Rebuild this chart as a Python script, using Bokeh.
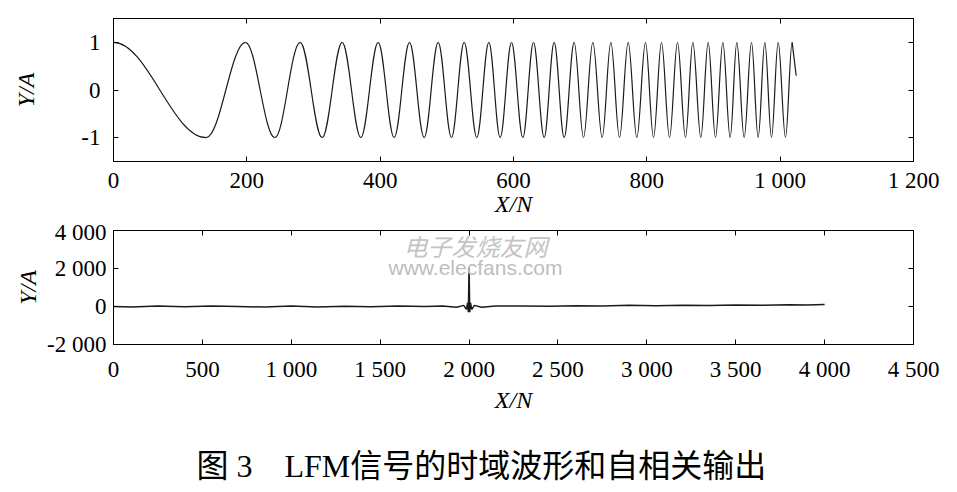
from bokeh.plotting import figure
from bokeh.models import FixedTicker, LinearAxis, Title, Label, Range1d, ColumnDataSource
from bokeh.layouts import column
from bokeh.embed import file_html
from bokeh.resources import INLINE

# ---------------- data ----------------
# Top panel: LFM waveform, positions of successive extrema (peak/trough)
lfm_ext_x = [0, 139, 198, 242, 280, 313, 343, 371, 397, 421,
             444, 466, 487, 507, 526, 545, 563, 580, 597, 614,
             630, 646, 661, 676, 691, 705, 719, 733, 746, 759,
             772, 785, 798, 810, 822, 834, 846, 858, 869, 881,
             892, 903, 914, 925, 935, 946, 957, 967, 977, 987,
             997, 1008, 1018]
lfm_ext_y = [1, -1, 1, -1, 1, -1, 1, -1, 1, -1,
             1, -1, 1, -1, 1, -1, 1, -1, 1, -1,
             1, -1, 1, -1, 1, -1, 1, -1, 1, -1,
             1, -1, 1, -1, 1, -1, 1, -1, 1, -1,
             1, -1, 1, -1, 1, -1, 1, -1, 1, -1,
             1, -1, 1]
lfm_end_x = 1024
lfm_end_y = 0.3

# Bottom panel: autocorrelation output
acf_x = [0, 100, 250, 400, 550, 700, 850, 1000, 1150, 1300,
         1450, 1600, 1750, 1850, 1930, 1970, 1985, 1992, 1996, 2000,
         2004, 2008, 2015, 2030, 2070, 2150, 2300, 2450, 2600, 2750,
         2900, 3050, 3200, 3350, 3500, 3650, 3800, 3900, 4000]
acf_y = [0, -20, 20, -10, 30, 0, -30, 20, -20, 10,
         -10, 30, 0, 20, -40, 60, -150, 200, -300, 2050,
         -300, 200, -150, 60, -40, 20, 30, 10, 40, 30,
         60, 40, 70, 50, 80, 60, 90, 80, 100]

top_xticks = [0, 200, 400, 600, 800, 1000, 1200]
top_xlabels = ["0", "200", "400", "600", "800", "1 000", "1 200"]
top_yticks = [-1, 0, 1]
top_ylabels = ["-1", "0", "1"]

bot_xticks = [0, 500, 1000, 1500, 2000, 2500, 3000, 3500, 4000, 4500]
bot_xlabels = ["0", "500", "1 000", "1 500", "2 000", "2 500", "3 000", "3 500", "4 000", "4 500"]
bot_yticks = [-2000, 0, 2000, 4000]
bot_ylabels = ["-2 000", "0", "2 000", "4 000"]

x_label = "X/N"
y_label = "Y/A"
caption = "图 3\u3000LFM信号的时域波形和自相关输出"
wm_cn = "电子发烧友网"
wm_en = "www.elecfans.com"

SERIF = "Liberation Serif"
TICK_SIZE = "23px"
LAB_SIZE = "24px"
LINE_COLOR = "#1a1a1a"


def style(p, xt, xl, yt, yl, ylab_standoff, xlab_standoff, ytick_standoff, xtick_standoff):
    for ax in p.xaxis + p.yaxis:
        ax.major_tick_in = 5
        ax.major_tick_out = 0
        ax.minor_tick_line_color = None
        ax.axis_line_color = "black"
        ax.major_tick_line_color = "black"
        ax.major_label_text_font = SERIF
        ax.major_label_text_font_size = TICK_SIZE
        ax.major_label_text_color = "black"
        ax.axis_label_text_font = SERIF
        ax.axis_label_text_font_style = "italic"
        ax.axis_label_text_font_size = LAB_SIZE
        ax.axis_label_text_color = "black"
    p.xaxis[0].ticker = FixedTicker(ticks=xt)
    p.xaxis[0].major_label_overrides = dict(zip(xt, xl))
    p.xaxis[0].axis_label = x_label
    p.xaxis[0].axis_label_standoff = xlab_standoff
    p.xaxis[0].major_label_standoff = xtick_standoff
    p.yaxis[0].ticker = FixedTicker(ticks=yt)
    p.yaxis[0].major_label_overrides = dict(zip(yt, yl))
    p.yaxis[0].axis_label = y_label
    p.yaxis[0].axis_label_standoff = ylab_standoff
    p.yaxis[0].major_label_standoff = ytick_standoff
    # mirrored box ticks (top / right), labels not drawn
    top = LinearAxis(ticker=FixedTicker(ticks=xt), major_tick_in=5, major_tick_out=0,
                     minor_tick_line_color=None, major_label_text_font_size="1px",
                     major_label_text_color=None,
                     major_label_standoff=0, axis_line_color="black")
    right = LinearAxis(ticker=FixedTicker(ticks=yt), major_tick_in=5, major_tick_out=0,
                       minor_tick_line_color=None, major_label_text_font_size="1px",
                       major_label_text_color=None,
                       major_label_standoff=0, axis_line_color="black")
    p.add_layout(top, "above")
    p.add_layout(right, "right")
    p.grid.visible = False
    p.outline_line_color = "black"
    p.outline_line_width = 1
    p.background_fill_color = "white"
    p.border_fill_color = "white"


# ---------------- top figure ----------------
p1 = figure(frame_width=800, frame_height=143,
            x_range=Range1d(0, 1200), y_range=Range1d(-1.5, 1.5),
            output_backend="svg", toolbar_location=None,
            min_border_left=113, min_border_right=36, min_border_top=18, min_border_bottom=0)
style(p1, top_xticks, top_xlabels, top_yticks, top_ylabels, 39, -5, 13, 6)

k = 0.3642
x0 = lfm_ext_x[:-1]
x1 = lfm_ext_x[1:]
y0 = lfm_ext_y[:-1]
y1 = lfm_ext_y[1:]
src = ColumnDataSource(dict(
    x0=x0, y0=y0, x1=x1, y1=y1,
    cx0=[a + k * (b - a) for a, b in zip(x0, x1)], cy0=y0,
    cx1=[b - k * (b - a) for a, b in zip(x0, x1)], cy1=y1,
))
p1.bezier(x0="x0", y0="y0", x1="x1", y1="y1", cx0="cx0", cy0="cy0", cx1="cx1", cy1="cy1",
          source=src, line_color=LINE_COLOR, line_width=1.2)
p1.line([lfm_ext_x[-1], lfm_end_x], [lfm_ext_y[-1], lfm_end_y], line_color=LINE_COLOR, line_width=1.2)

# ---------------- bottom figure ----------------
p2 = figure(frame_width=800, frame_height=114,
            x_range=Range1d(0, 4500), y_range=Range1d(-2000, 4000),
            output_backend="svg", toolbar_location=None,
            min_border_left=113, min_border_right=36, min_border_top=11, min_border_bottom=0)
style(p2, bot_xticks, bot_xlabels, bot_yticks, bot_ylabels, 3, 2, 7, 12)

p2.line(acf_x, acf_y, line_color=LINE_COLOR, line_width=1.5)

p2.add_layout(Label(x=2036, y=3200, text=wm_cn, text_font="Noto Sans CJK SC",
                    text_font_size="24px", text_font_style="italic", text_color="#c4c4c4",
                    text_align="center", text_baseline="middle"))
p2.add_layout(Label(x=2036, y=2050, text=wm_en, text_font="Liberation Sans",
                    text_font_size="21px", text_color="#bdbdbd",
                    text_align="center", text_baseline="middle"))

cap = Title(text=caption, align="left", offset=83, standoff=60,
            text_font="Liberation Serif, Noto Sans CJK SC", text_font_size="32px",
            text_font_style="normal", text_color="black")
p2.add_layout(cap, "below")

layout = column(p1, p2, spacing=0)
open("out.html", "w").write(file_html(layout, INLINE))
